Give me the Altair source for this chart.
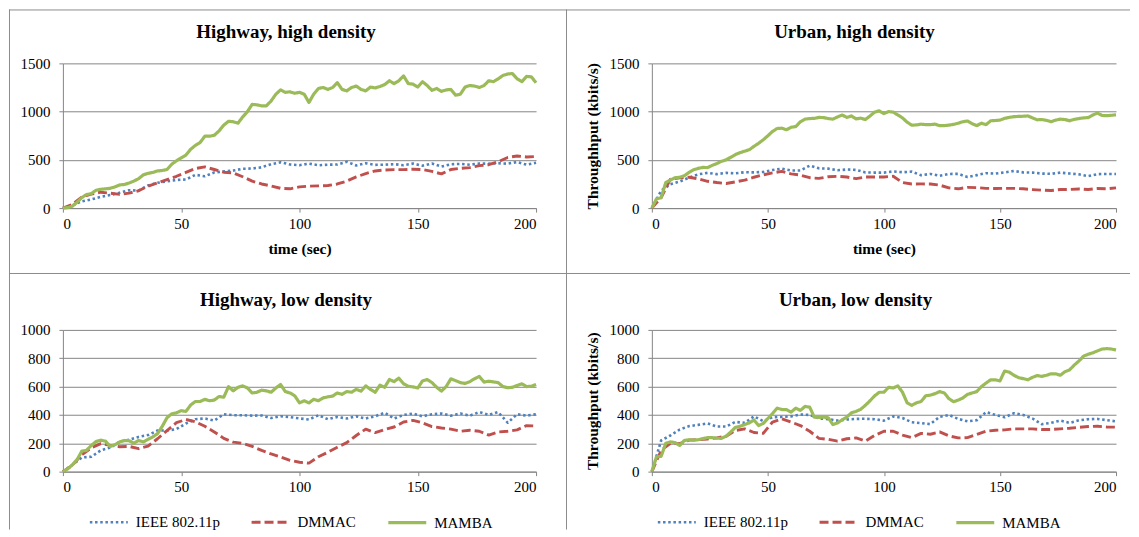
import altair as alt
import pandas as pd

# sample times (seconds)
T2 = list(range(0, 201, 2))
T4 = list(range(0, 201, 4))

SERIES = ["IEEE 802.11p", "DMMAC", "MAMBA"]
COLORS = ["#4F81BD", "#C0504D", "#9BBB59"]
DASHES = [[2.5, 2.7], [9, 4], [1, 0]]
WIDTHS = [2.6, 3.2, 3.4]

# Highway, high density
HH_MAMBA = [0, 5, 20, 60, 110, 140, 150, 185, 195, 200,
            205, 220, 240, 245, 260, 280, 305, 345, 360, 370,
            385, 390, 400, 455, 490, 520, 550, 610, 650, 680,
            745, 745, 755, 800, 860, 900, 895, 880, 945, 1000,
            1075, 1070, 1060, 1060, 1110, 1180, 1225, 1200, 1205, 1190,
            1200, 1180, 1095, 1180, 1240, 1250, 1230, 1250, 1300, 1230,
            1215, 1250, 1265, 1230, 1215, 1255, 1245, 1260, 1280, 1320,
            1290, 1320, 1370, 1290, 1285, 1255, 1310, 1270, 1220, 1240,
            1210, 1225, 1230, 1170, 1180, 1255, 1270, 1265, 1250, 1270,
            1320, 1310, 1340, 1375, 1390, 1395, 1340, 1310, 1365, 1360,
            1300]
HH_DMMAC = [0, 38, 115, 145, 165, 155, 143, 155, 180, 228,
            262, 295, 330, 370, 410, 427, 400, 372, 365, 325,
            280, 250, 230, 205, 200, 220, 227, 230, 234, 250,
            280, 323, 358, 385, 395, 399, 399, 403, 400, 380,
            355, 400, 412, 420, 440, 450, 480, 525, 540, 530,
            535]
HH_IEEE = [0, 28, 70, 90, 117, 135, 160, 185, 182, 235,
           262, 278, 292, 296, 345, 330, 370, 380, 389, 408,
           410, 423, 455, 475, 452, 445, 461, 444, 450, 452,
           480, 442, 465, 448, 450, 455, 445, 461, 440, 462,
           430, 455, 458, 450, 462, 460, 465, 460, 478, 450,
           470]

# Urban, high density
UH_MAMBA = [0, 96, 107, 265, 290, 315, 320, 335, 370, 398,
            412, 422, 420, 443, 462, 485, 500, 527, 555, 575,
            590, 605, 640, 672, 708, 750, 795, 825, 828, 812,
            838, 845, 895, 922, 928, 930, 940, 938, 928, 922,
            945, 965, 940, 955, 925, 932, 918, 955, 995, 1008,
            980, 1000, 995, 965, 935, 890, 860, 862, 870, 865,
            865, 870, 855, 855, 860, 868, 880, 895, 903, 875,
            855, 880, 865, 905, 908, 912, 930, 940, 948, 950,
            952, 955, 935, 915, 918, 910, 895, 912, 922, 918,
            905, 920, 928, 935, 938, 965, 985, 960, 958, 962,
            967]
UH_DMMAC = [0, 110, 300, 313, 320, 303, 278, 265, 255, 272,
            290, 320, 345, 365, 380, 355, 342, 315, 308, 325,
            330, 322, 305, 322, 323, 323, 330, 265, 250, 251,
            250, 238, 210, 200, 215, 212, 205, 203, 205, 205,
            200, 192, 186, 182, 193, 193, 198, 193, 203, 200,
            210]
UH_IEEE = [0, 180, 248, 275, 315, 350, 365, 352, 365, 360,
           372, 370, 375, 395, 409, 390, 390, 440, 412, 409,
           392, 400, 396, 370, 368, 368, 380, 372, 378, 341,
           354, 335, 354, 355, 322, 342, 362, 358, 370, 385,
           370, 368, 358, 355, 368, 358, 350, 332, 352, 354,
           354]

# Highway, low density
HL_MAMBA = [0, 19, 48, 85, 145, 150, 185, 212, 222, 215,
            178, 190, 210, 220, 218, 200, 220, 210, 228, 245,
            268, 320, 380, 408, 415, 430, 425, 470, 495, 495,
            510, 500, 505, 530, 525, 600, 570, 595, 605, 590,
            555, 560, 575, 570, 560, 590, 615, 565, 555, 535,
            485, 500, 485, 510, 500, 520, 528, 533, 555, 545,
            565, 560, 580, 568, 605, 580, 560, 610, 595, 650,
            635, 660, 620, 602, 598, 590, 640, 650, 628, 595,
            568, 600, 655, 642, 628, 622, 635, 655, 672, 632,
            638, 633, 628, 600, 592, 595, 608, 620, 600, 602,
            615]
HL_DMMAC = [0, 45, 120, 168, 198, 185, 176, 178, 162, 180,
            232, 290, 345, 368, 352, 320, 280, 235, 208, 200,
            178, 150, 125, 103, 80, 66, 60, 105, 137, 172,
            205, 255, 300, 275, 297, 315, 350, 362, 344, 318,
            308, 300, 285, 292, 285, 258, 280, 285, 295, 325,
            322]
HL_IEEE = [0, 48, 100, 105, 150, 170, 212, 225, 245, 258,
           290, 290, 300, 340, 370, 375, 360, 405, 398, 398,
           395, 396, 378, 391, 385, 375, 368, 398, 370, 386,
           375, 390, 375, 391, 415, 375, 400, 410, 390, 405,
           410, 395, 410, 395, 420, 400, 420, 345, 405, 395,
           405]

# Urban, low density
UL_MAMBA = [0, 105, 108, 200, 210, 205, 185, 220, 225, 222,
            225, 233, 240, 240, 236, 235, 250, 280, 312, 320,
            332, 344, 365, 325, 340, 375, 410, 448, 438, 438,
            420, 448, 432, 460, 455, 385, 382, 385, 380, 332,
            344, 365, 385, 415, 425, 440, 468, 500, 535, 560,
            560, 595, 590, 605, 560, 485, 468, 485, 495, 535,
            540, 550, 565, 555, 515, 493, 505, 520, 545, 555,
            565, 600, 625, 648, 648, 640, 710, 702, 680, 663,
            656, 648, 665, 678, 672, 680, 690, 690, 680, 705,
            718, 752, 780, 815, 828, 838, 852, 865, 868, 865,
            858]
UL_DMMAC = [0, 150, 200, 198, 222, 226, 230, 238, 250, 290,
            302, 276, 270, 350, 372, 350, 325, 285, 235, 228,
            215, 232, 238, 215, 255, 285, 285, 258, 240, 270,
            264, 280, 252, 238, 240, 262, 285, 292, 295, 302,
            302, 302, 297, 297, 302, 306, 312, 318, 320, 315,
            314]
UL_IEEE = [0, 220, 255, 297, 321, 330, 340, 318, 318, 351,
           344, 390, 356, 384, 386, 390, 403, 400, 375, 370,
           360, 368, 372, 373, 370, 360, 390, 378, 349, 342,
           335, 387, 400, 372, 355, 363, 420, 400, 384, 412,
           400, 375, 335, 344, 360, 344, 362, 370, 372, 363,
           355]

FONT = "Liberation Serif"
BORDER = "#8c8c8c"
AXIS_GREY = "#868686"


def frame(ieee, dmmac, mamba):
    rows = []
    for t, v in zip(T4, ieee):
        rows.append({"t": t, "v": v, "s": SERIES[0]})
    for t, v in zip(T4, dmmac):
        rows.append({"t": t, "v": v, "s": SERIES[1]})
    for t, v in zip(T2, mamba):
        rows.append({"t": t, "v": v, "s": SERIES[2]})
    return pd.DataFrame(rows)


one = pd.DataFrame({"d": [0]})


def panel(df, title, ymax, ystep, w, h, xr, yr, xtitle, ytitle, dx, toff, legend_x):
    # each panel is a full "chart area" box; the plot area is placed with the scale ranges
    if legend_x is None:
        leg = None
    else:
        leg = alt.Legend(orient="none", legendX=legend_x, legendY=229,
                         direction="horizontal", columns=3, title=None,
                         labelFont=FONT, labelFontSize=15, labelColor="black",
                         symbolType="stroke", symbolSize=1444,
                         symbolStrokeWidth=3, labelOffset=6,
                         columnPadding=25, padding=0)
    xaxis = alt.Axis(values=[0, 50, 100, 150, 200], grid=False, format="d",
                     labelPadding=4, titlePadding=10, title=xtitle,
                     offset=yr[0] - h)
    yaxis = alt.Axis(values=list(range(0, ymax + 1, ystep)), grid=True, format="d",
                     labelPadding=9, titlePadding=8, title=ytitle,
                     offset=-xr[0])
    lines = alt.Chart(df).mark_line(strokeJoin="round").encode(
        x=alt.X("t:Q", scale=alt.Scale(domain=[0, 200], nice=False, range=xr), axis=xaxis),
        y=alt.Y("v:Q", scale=alt.Scale(domain=[0, ymax], nice=False, range=yr), axis=yaxis),
        color=alt.Color("s:N", scale=alt.Scale(domain=SERIES, range=COLORS), legend=leg),
        strokeDash=alt.StrokeDash("s:N", scale=alt.Scale(domain=SERIES, range=DASHES), legend=leg),
        strokeWidth=alt.StrokeWidth("s:N", scale=alt.Scale(domain=SERIES, range=WIDTHS), legend=None),
    )
    top_edge = alt.Chart(one).mark_rule(color=BORDER, strokeWidth=1).encode(
        y=alt.value(0.5), x=alt.value(0), x2=alt.value(w))
    left_edge = alt.Chart(one).mark_rule(color=BORDER, strokeWidth=1).encode(
        x=alt.value(0.5), y=alt.value(0), y2=alt.value(h))
    return alt.layer(lines, top_edge, left_edge).properties(
        width=w, height=h,
        title=alt.TitleParams(text=title, font=FONT, fontSize=19, fontWeight="bold",
                              color="black", anchor="middle", frame="group",
                              baseline="alphabetic", dx=dx, offset=toff),
    )


tl = panel(frame(HH_IEEE, HH_DMMAC, HH_MAMBA), "Highway, high density", 1500, 500,
           558, 264, [54, 528], [199, 54], "time (sec)", None, -1.5, -48, None)
tr = panel(frame(UH_IEEE, UH_DMMAC, UH_MAMBA), "Urban, high density", 1500, 500,
           565, 264, [86, 551], [199, 54], "time (sec)", "Throughhput (kbits/s)", 6.5, -48, None)
bl = panel(frame(HL_IEEE, HL_DMMAC, HL_MAMBA), "Highway, low density", 1000, 200,
           558, 257, [54, 528], [199, 57], None, None, -1.5, -53, 79)
br = panel(frame(UL_IEEE, UL_DMMAC, UL_MAMBA), "Urban, low density", 1000, 200,
           565, 257, [86, 551], [199, 57], None, "Throughput (kbits/s)", 7.5, -53, 90)

chart = alt.concat(tl, tr, bl, br, columns=2, spacing=0, bounds="flush").resolve_scale(
    x="independent", y="independent",
    color="independent", strokeDash="independent", strokeWidth="independent",
).resolve_legend(
    color="independent", strokeDash="independent", strokeWidth="independent",
).properties(
    padding=0, background="white"
).configure_view(stroke="transparent").configure_axis(
    domainColor=AXIS_GREY, tickColor=AXIS_GREY, gridColor=AXIS_GREY,
    domainWidth=1, tickWidth=1, gridWidth=1, tickSize=4,
    labelFont=FONT, labelFontSize=15, labelColor="black",
    titleFont=FONT, titleFontSize=15.5, titleFontWeight="bold", titleColor="black",
)

chart.save("out.html", embed_options={"renderer": "svg", "actions": False})
